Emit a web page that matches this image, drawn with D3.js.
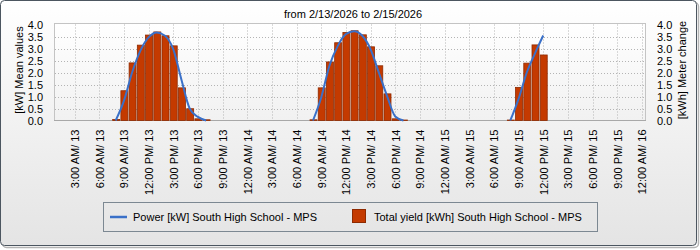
<!DOCTYPE html>
<html>
<head>
<meta charset="utf-8">
<script src="https://cdnjs.cloudflare.com/ajax/libs/d3/7.8.5/d3.min.js"></script>
<style>
  body { margin: 0; background: #fff; }
  text { font-family: "Liberation Sans", Arial, sans-serif; font-size: 11px; fill: #000; }
</style>
</head>
<body>
<script>
var title = "from 2/13/2026 to 2/15/2026";
var yTitleLeft = "[kW] Mean values";
var yTitleRight = "[kWh] Meter change";
var powerName = "Power [kW] South High School - MPS";
var yieldName = "Total yield [kWh] South High School - MPS";

var dayOffsets = [0, 24, 48]; // hours from 2/13 0:00 for 2/13, 2/14, 2/15
var hours = [8, 9, 10, 11, 12, 13, 14, 15, 16, 17, 18, 19];

// hourly energy (bars)
var yield13 = [0.04, 1.24, 2.40, 3.14, 3.56, 3.69, 3.53, 3.11, 1.36, 0.49, 0.07, 0.03];
var yield14 = [0.03, 1.36, 2.44, 3.24, 3.67, 3.74, 3.57, 3.07, 2.28, 1.11, 0.07, 0.02];
var yield15 = [0.02, 1.38, 2.39, 3.15, 2.73];

// mean power (line)
var power13 = [0, 0.82, 2.0, 2.9, 3.46, 3.67, 3.53, 2.97, 1.7, 0.5, 0.15, 0];
var power14 = [0, 0.96, 2.28, 3.1, 3.6, 3.72, 3.53, 2.97, 2.0, 1.03, 0.17, 0];
var power15 = [0, 0.9, 2.0, 2.8, 3.54];

var tickHours = [3, 6, 9, 12, 15, 18, 21, 24, 27, 30, 33, 36, 39, 42, 45, 48, 51, 54, 57, 60, 63, 66, 69, 72];
var tickLabels = ["3:00 AM/ 13", "6:00 AM/ 13", "9:00 AM/ 13", "12:00 PM/ 13", "3:00 PM/ 13", "6:00 PM/ 13", "9:00 PM/ 13",
  "12:00 AM/ 14", "3:00 AM/ 14", "6:00 AM/ 14", "9:00 AM/ 14", "12:00 PM/ 14", "3:00 PM/ 14", "6:00 PM/ 14", "9:00 PM/ 14",
  "12:00 AM/ 15", "3:00 AM/ 15", "6:00 AM/ 15", "9:00 AM/ 15", "12:00 PM/ 15", "3:00 PM/ 15", "6:00 PM/ 15", "9:00 PM/ 15",
  "12:00 AM/ 16"];
var yTicks = [0, 0.5, 1, 1.5, 2, 2.5, 3, 3.5, 4];

var width = 700, height = 250;
var plotL = 54, plotR = 646, plotT = 24.5, plotB = 120.5;

var barColor = "#c43a00", barEdge = "#8e2a00", lineColor = "#3a70c8";

var yieldSeries = [yield13, yield14, yield15];
var powerSeries = [power13, power14, power15];

var x = d3.scaleLinear().domain([0.5, 72.5]).range([plotL, plotR]);
var y = d3.scaleLinear().domain([0, 4]).range([plotB, plotT]);

var svg = d3.select("body").append("svg")
    .attr("width", width)
    .attr("height", height);

var defs = svg.append("defs");
var bg = defs.append("linearGradient").attr("id", "bg").attr("x1", 0).attr("y1", 0).attr("x2", 0).attr("y2", 1);
bg.append("stop").attr("offset", 0).attr("stop-color", "#ffffff");
bg.append("stop").attr("offset", 1).attr("stop-color", "#e4e4e4");
var plotBg = defs.append("linearGradient").attr("id", "plotbg").attr("x1", 0).attr("y1", 0).attr("x2", 0).attr("y2", 1);
plotBg.append("stop").attr("offset", 0).attr("stop-color", "#ffffff");
plotBg.append("stop").attr("offset", 1).attr("stop-color", "#f1f1f1");

// outer panel with shadow
svg.append("rect")
    .attr("x", 2.5).attr("y", 2.5).attr("width", 696).attr("height", 245)
    .attr("rx", 4).attr("fill", "none").attr("stroke", "#b4b4b4").attr("stroke-width", 1.5);
svg.append("rect")
    .attr("x", 0.5).attr("y", 0.5).attr("width", 696).attr("height", 245)
    .attr("rx", 4).attr("fill", "url(#bg)").attr("stroke", "#4c5660");

svg.append("text")
    .attr("x", 353).attr("y", 18)
    .attr("text-anchor", "middle")
    .text(title);

// plot area
svg.append("rect")
    .attr("x", plotL + 0.5).attr("y", plotT - 1)
    .attr("width", plotR - plotL - 1).attr("height", plotB - plotT + 1)
    .attr("fill", "url(#plotbg)").attr("stroke", "#c4c4c4");

var grid = svg.append("g").attr("stroke", "#b4b4b4").attr("stroke-dasharray", "1,2");
grid.selectAll(".vg").data(tickHours.filter(function(d) { return x(d) < plotR - 2; }))
  .enter().append("line")
    .attr("x1", function(d) { return Math.round(x(d)) + 0.5; })
    .attr("x2", function(d) { return Math.round(x(d)) + 0.5; })
    .attr("y1", plotT).attr("y2", plotB);
grid.selectAll(".hg").data(yTicks.filter(function(d) { return d > 0 && d < 4; }))
  .enter().append("line")
    .attr("x1", plotL + 1).attr("x2", plotR - 1)
    .attr("y1", function(d) { return Math.round(y(d)) + 0.5; })
    .attr("y2", function(d) { return Math.round(y(d)) + 0.5; });

svg.append("line")
    .attr("x1", plotL).attr("x2", plotR)
    .attr("y1", plotB).attr("y2", plotB)
    .attr("stroke", "#a8a8a8");

// bars
var barW = (x(1) - x(0)) * 0.85;
var bars = [];
yieldSeries.forEach(function(vals, d) {
  vals.forEach(function(v, i) { bars.push({t: dayOffsets[d] + hours[i], v: v}); });
});
svg.append("g").selectAll("rect")
    .data(bars)
  .enter().append("rect")
    .attr("x", function(d) { return x(d.t) - barW / 2 + 0.5; })
    .attr("y", function(d) { return y(d.v); })
    .attr("width", barW)
    .attr("height", function(d) { return Math.max(0.5, plotB - y(d.v)); })
    .attr("fill", barColor)
    .attr("stroke", barEdge)
    .attr("stroke-width", 0.8);

// power lines, one per day
var line = d3.line()
    .x(function(d) { return x(d.t); })
    .y(function(d) { return y(d.v); })
    .curve(d3.curveMonotoneX);
powerSeries.forEach(function(vals, d) {
  var pts = vals.map(function(v, i) { return {t: dayOffsets[d] + hours[i], v: v}; });
  svg.append("path")
      .datum(pts)
      .attr("d", line)
      .attr("fill", "none")
      .attr("stroke", lineColor)
      .attr("stroke-width", 2);
});

// axes
var yLeft = svg.append("g")
    .attr("transform", "translate(" + plotL + ",0)")
    .call(d3.axisLeft(y).tickValues(yTicks).tickFormat(d3.format(".1f")).tickSize(0).tickPadding(11));
var yRight = svg.append("g")
    .attr("transform", "translate(" + plotR + ",0)")
    .call(d3.axisRight(y).tickValues(yTicks).tickFormat(d3.format(".1f")).tickSize(0).tickPadding(11));
var xAxis = svg.append("g")
    .attr("transform", "translate(0," + plotB + ")")
    .call(d3.axisBottom(x).tickValues(tickHours).tickFormat(function(d, i) { return tickLabels[i]; }).tickSize(0));
xAxis.selectAll("text")
    .attr("transform", "rotate(-90)")
    .attr("text-anchor", "end")
    .attr("x", -9)
    .attr("y", 0)
    .attr("dy", "0.35em");
[yLeft, yRight, xAxis].forEach(function(a) {
  a.select(".domain").remove();
  a.selectAll("text").attr("font-family", null).attr("font-size", null).attr("fill", "#000");
});

svg.append("text")
    .attr("transform", "translate(23,70) rotate(-90)")
    .attr("text-anchor", "middle")
    .text(yTitleLeft);
svg.append("text")
    .attr("transform", "translate(686,70) rotate(-90)")
    .attr("text-anchor", "middle")
    .text(yTitleRight);

// legend
var legend = svg.append("g");
legend.append("rect")
    .attr("x", 103.5).attr("y", 202.5).attr("width", 494).attr("height", 29)
    .attr("fill", "none").attr("stroke", "#7c8892");
legend.append("line")
    .attr("x1", 110).attr("x2", 127).attr("y1", 217).attr("y2", 217)
    .attr("stroke", lineColor).attr("stroke-width", 2.5);
legend.append("text")
    .attr("x", 133).attr("y", 217).attr("dy", "0.35em")
    .text(powerName);
legend.append("rect")
    .attr("x", 352.5).attr("y", 209.5).attr("width", 13).attr("height", 13)
    .attr("fill", barColor).attr("stroke", barEdge);
legend.append("text")
    .attr("x", 374).attr("y", 217).attr("dy", "0.35em")
    .text(yieldName);
</script>
</body>
</html>
